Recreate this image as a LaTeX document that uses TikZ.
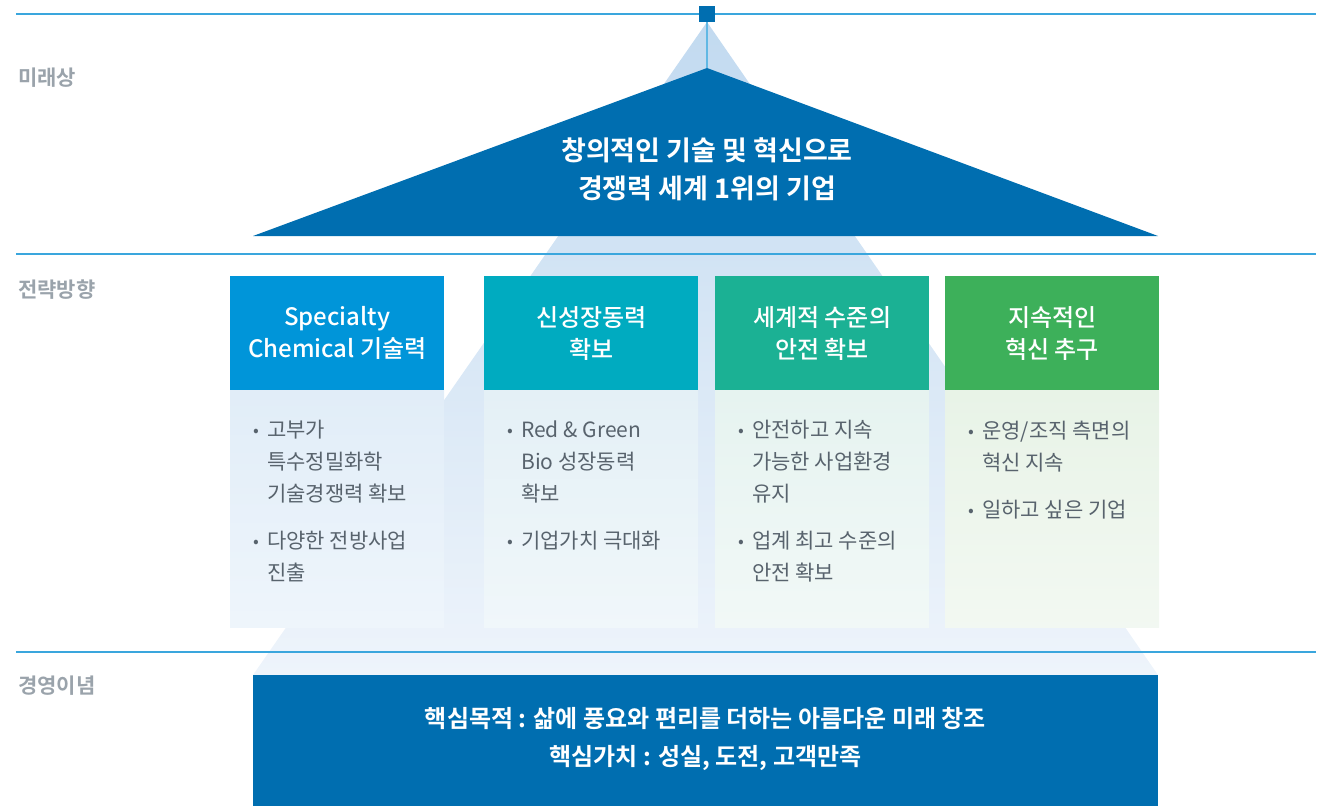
\documentclass[tikz,border=0pt]{standalone}
\usepackage{fontspec}
\setmainfont{Noto Sans CJK KR}[BoldFont={Noto Sans CJK KR Bold}]
\newfontfamily\medfont{Noto Sans CJK KR Medium}
\usepackage{tikz}
\usetikzlibrary{positioning,calc}
\definecolor{deepblue}{HTML}{006EB0}
\definecolor{lineblue}{HTML}{3AA6DD}
\definecolor{labelgray}{HTML}{9AA3AB}
\definecolor{textgray}{HTML}{58636D}
\definecolor{headA}{HTML}{0095D9}
\definecolor{headB}{HTML}{00ABC0}
\definecolor{headC}{HTML}{1BB194}
\definecolor{headD}{HTML}{3DB05A}
\definecolor{bodyA}{HTML}{E1EDF8}
\definecolor{bodyB}{HTML}{E4F0F6}
\definecolor{bodyC}{HTML}{E6F3F0}
\definecolor{bodyD}{HTML}{E8F3E7}
\definecolor{pyrtop}{HTML}{C2DAF0}
\definecolor{pyrbot}{HTML}{EEF4FB}
\tikzstyle{sepline}=[draw=lineblue, line width=1.2pt]
\tikzstyle{level}=[anchor=west, inner sep=0pt, text=labelgray,
  font=\bfseries\fontsize{21}{21}\selectfont]
\tikzstyle{head}=[anchor=north west, minimum width=214pt, minimum height=114pt,
  inner sep=0pt, text=white, align=center, font=\medfont\fontsize{24}{32}\selectfont]
\tikzstyle{body}=[anchor=north, minimum width=214pt, minimum height=237pt, inner sep=0pt]
\tikzstyle{point}=[anchor=north west, inner sep=0pt, text=textgray, align=left,
  font=\fontsize{21}{32}\selectfont]
\tikzstyle{banner}=[text=white, align=center, font=\bfseries\fontsize{24}{38}\selectfont]
\newcommand{\bul}{\makebox[14pt][l]{\raisebox{1pt}{\fontsize{17}{17}\selectfont •}}}
\newcommand{\ind}{\hspace*{14pt}}
% head box, body box and bullet text of one pillar
\newcommand{\pillar}[6]{%
\node (h#1)[head, fill=#3] at (#2,276) {#5};
\node (b#1)[body, top color=#4, bottom color=#4!55!white] at (h#1.south) {};
\node (t#1)[point] at ($(b#1.north west)+(23,30)$) {#6};}
\begin{document}
\begin{tikzpicture}[x=1pt,y=-1pt]
  \useasboundingbox (0,0) rectangle (1322,806);

  % Light pyramid behind everything
  \coordinate (apex) at (707,68);
  \shade[top color=pyrtop, bottom color=pyrbot] (707,22) -- (253,675) -- (1158,675) -- cycle;

  % Level lines and labels
  \path [sepline] (16,14) -- (1316,14);
  \path [sepline] (16,254) -- (1316,254);
  \path [sepline] (16,652) -- (1316,652);
  \node (l1)[level] at (18,78) {미래상};
  \node (l2)[level] at (18,290) {전략방향};
  \node (l3)[level] at (18,686) {경영이념};

  % Top of the pyramid
  \node (cap)[fill=deepblue, minimum size=16pt, inner sep=0pt] at (707,14) {};
  \draw [lineblue!80, line width=1.2pt] (cap.south) -- (apex);
  \fill [deepblue] (apex) -- (1158,236) -- (253,236) -- cycle;
  \node (vision)[banner, font=\bfseries\fontsize{27}{38}\selectfont] at (707,169)
    {창의적인 기술 및 혁신으로\\경쟁력 세계 1위의 기업};

  % Four pillars
  \pillar{1}{230}{headA}{bodyA}{Specialty\\Chemical 기술력}
    {\bul 고부가\\\ind 특수정밀화학\\\ind 기술경쟁력 확보\\[15pt]\bul 다양한 전방사업\\\ind 진출};
  \pillar{2}{484}{headB}{bodyB}{신성장동력\\확보}
    {\bul Red \& Green\\\ind Bio 성장동력\\\ind 확보\\[15pt]\bul 기업가치 극대화};
  \pillar{3}{715}{headC}{bodyC}{세계적 수준의\\안전 확보}
    {\bul 안전하고 지속\\\ind 가능한 사업환경\\\ind 유지\\[15pt]\bul 업계 최고 수준의\\\ind 안전 확보};
  \pillar{4}{945}{headD}{bodyD}{지속적인\\혁신 추구}
    {\bul 운영/조직 측면의\\\ind 혁신 지속\\[15pt]\bul 일하고 싶은 기업};

  % Base of the pyramid
  \node (core)[fill=deepblue, anchor=north, minimum width=905pt, minimum height=131pt,
    inner sep=0pt] at (705.5,675) {};
  \node (mission)[banner] at ($(core.center)+(0,-2)$)
    {핵심목적 : 삶에 풍요와 편리를 더하는 아름다운 미래 창조\\핵심가치 : 성실, 도전, 고객만족};

\end{tikzpicture}
\end{document}
